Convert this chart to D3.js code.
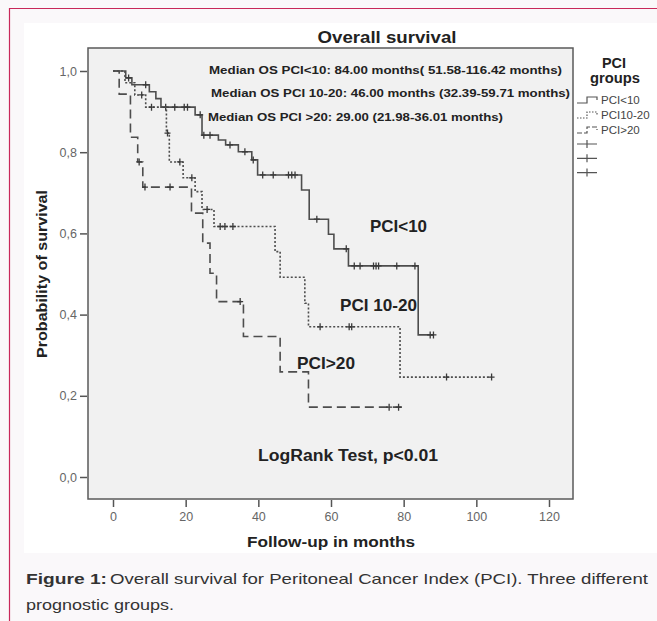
<!DOCTYPE html>
<html>
<head>
<meta charset="utf-8">
<script src="https://cdn.jsdelivr.net/npm/d3@7"></script>
<style>
  body { margin: 0; background: #faf8fa; }
  svg { display: block; font-family: "Liberation Sans", Arial, sans-serif; }
</style>
</head>
<body>
<div id="chart"></div>
<script>
// step points: [month, survival]
var pci10Steps = [[0,1.0],[3.5,0.983],[5.2,0.966],[10,0.949],[11.8,0.932],[13.2,0.911],[22.6,0.892],[24.5,0.842],
  [29,0.830],[31,0.818],[34.5,0.801],[38.2,0.781],[39.8,0.744],[51.9,0.707],[54,0.635],[59.3,0.598],[60.8,0.562],[64.8,0.520],[84,0.350]];
var pci10End = 88.2;
var pci10Censor = [4.3, 9, 14.5, 17, 19.6, 20.5, 24, 25, 26.7, 32.2, 36.3, 38.6, 41.2, 44.1, 48.3, 49.2, 50.1,
  56.1, 64.2, 66.4, 68, 71.7, 72.4, 73.1, 78.1, 83.1, 87.3, 88.2];

var pci1020Steps = [[0,1.0],[3.3,0.971],[6,0.941],[9,0.911],[14.7,0.847],[15.5,0.776],[19.3,0.737],[22.6,0.703],
  [24.5,0.659],[27.8,0.617],[44.6,0.555],[46,0.492],[52.8,0.428],[53.8,0.370],[79,0.246]];
var pci1020End = 104.2;
var pci1020Censor = [7.9, 10.6, 15, 18.4, 21.7, 25.9, 29.5, 30.8, 33, 57, 65, 65.7, 91.8, 104.2];

var pci20Steps = [[0,1.0],[1.7,0.943],[4.8,0.837],[6.8,0.776],[8.2,0.714],[21.6,0.650],[24.7,0.576],[26.7,0.502],
  [28.5,0.432],[35.9,0.346],[46,0.259],[53.8,0.172]];
var pci20End = 79.5;
var pci20Censor = [7.2, 8.8, 15.7, 35, 76, 78.6];

var xTicks = [0, 20, 40, 60, 80, 100, 120];
var yTicks = [0, 0.2, 0.4, 0.6, 0.8, 1.0];
var legendNames = ["PCI<10", "PCI10-20", "PCI>20"];
var medianNotes = [
  "Median OS PCI<10: 84.00 months( 51.58-116.42 months)",
  "Median OS PCI 10-20: 46.00 months (32.39-59.71 months)",
  "Median OS PCI >20: 29.00 (21.98-36.01 months)"
];

var W = 657, H = 621;
var svg = d3.select("#chart").append("svg").attr("width", W).attr("height", H);

// page frame
svg.append("rect").attr("x", 0).attr("y", 0).attr("width", W).attr("height", H).attr("fill", "#faf8fa");
svg.append("path").attr("d", "M9.5," + H + "V8.5H" + W).attr("fill", "none").attr("stroke", "#c8285a").attr("stroke-width", 1.2);
svg.append("rect").attr("x", 24).attr("y", 23).attr("width", W - 24).attr("height", 530).attr("fill", "#fff");

var x = d3.scaleLinear().domain([0, 120]).range([113, 549]);
var y = d3.scaleLinear().domain([0, 1]).range([477, 71]);

// plot box
var box = {l: 88, t: 48, r: 573, b: 499};
svg.append("rect").attr("x", box.l).attr("y", box.t).attr("width", box.r - box.l).attr("height", box.b - box.t)
  .attr("fill", "#f1f1f1").attr("stroke", "#5a5a5a").attr("stroke-width", 1.5);

// axes
var xAxis = svg.append("g").attr("transform", "translate(0," + (box.b + 1) + ")")
  .call(d3.axisBottom(x).tickValues(xTicks).tickSize(7).tickFormat(d3.format("d")));
var yAxis = svg.append("g").attr("transform", "translate(" + (box.l - 1) + ",0)")
  .call(d3.axisLeft(y).tickValues(yTicks).tickSize(7).tickFormat(function (d) { return d3.format(".1f")(d).replace(".", ","); }));
[xAxis, yAxis].forEach(function (a) {
  a.select(".domain").remove();
  a.selectAll("line").attr("stroke", "#555").attr("stroke-width", 1.5);
  a.selectAll("text").attr("fill", "#666").style("font-size", "12.5px");
});
xAxis.selectAll("text").attr("dy", "0.9em");

// curves
var line = d3.line().x(function (d) { return x(d[0]); }).y(function (d) { return y(d[1]); }).curve(d3.curveStepAfter);

function survAt(steps, t) {
  var s = steps[0][1];
  steps.forEach(function (p) { if (p[0] <= t) s = p[1]; });
  return s;
}

var groups = [
  {steps: pci10Steps, end: pci10End, censor: pci10Censor, dash: null},
  {steps: pci1020Steps, end: pci1020End, censor: pci1020Censor, dash: "2,2"},
  {steps: pci20Steps, end: pci20End, censor: pci20Censor, dash: "9,5"}
];

groups.forEach(function (g) {
  var pts = g.steps.concat([[g.end, g.steps[g.steps.length - 1][1]]]);
  svg.append("path").attr("d", line(pts)).attr("fill", "none")
    .attr("stroke", "#4d4d4d").attr("stroke-width", 1.6)
    .attr("stroke-dasharray", g.dash);
  svg.append("g").selectAll("path").data(g.censor).join("path")
    .attr("d", function (t) {
      var cx = x(t), cy = y(survAt(g.steps, t));
      return "M" + cx + "," + (cy - 3.5) + "V" + (cy + 3.5) + "M" + (cx - 3) + "," + cy + "H" + (cx + 3);
    })
    .attr("stroke", "#3a3a3a").attr("stroke-width", 1.3);
});

// texts
function txt(s, tx, ty, size, opts) {
  opts = opts || {};
  var t = svg.append("text").attr("x", tx).attr("y", ty).text(s)
    .style("font-size", size + "px").style("font-weight", opts.bold ? "bold" : "normal")
    .attr("fill", opts.fill || "#222").attr("text-anchor", opts.anchor || "start");
  if (opts.len) t.attr("textLength", opts.len).attr("lengthAdjust", "spacingAndGlyphs");
  return t;
}

txt("Overall survival", 387, 43, 17, {bold: true, anchor: "middle", len: 139});
txt(medianNotes[0], 209, 74, 11.5, {bold: true, len: 353});
txt(medianNotes[1], 211, 97, 11.5, {bold: true, len: 359});
txt(medianNotes[2], 208, 121, 11.5, {bold: true, len: 295});
txt("PCI<10", 370, 232, 17, {bold: true, len: 57});
txt("PCI 10-20", 340, 311, 17, {bold: true, len: 77});
txt("PCI>20", 297, 369, 17, {bold: true, len: 58});
txt("LogRank Test, p<0.01", 258, 461, 16, {bold: true, len: 180});
txt("Follow-up in months", 331, 547, 15, {bold: true, anchor: "middle", len: 168});
svg.append("text").attr("transform", "translate(47,274) rotate(-90)").attr("text-anchor", "middle")
  .text("Probability of survival").style("font-size", "15px").style("font-weight", "bold").attr("fill", "#222")
  .attr("textLength", 168).attr("lengthAdjust", "spacingAndGlyphs");

// legend
txt("PCI", 614, 68, 14, {bold: true, anchor: "middle", len: 24});
txt("groups", 615, 83, 14, {bold: true, anchor: "middle", len: 50});
var leg = svg.append("g").selectAll("g").data(legendNames).join("g")
  .attr("transform", function (d, i) { return "translate(577," + (100 + i * 15) + ")"; });
leg.append("path").attr("d", "M0,3H10V-3H20V0").attr("fill", "none").attr("stroke", "#555").attr("stroke-width", 1.2)
  .attr("stroke-dasharray", function (d, i) { return groups[i].dash ? (i === 1 ? "1.5,1.5" : "5,2") : null; });
leg.append("text").attr("x", 24).attr("y", 4).text(function (d) { return d; })
  .style("font-size", "11.5px").attr("fill", "#444");
svg.append("g").selectAll("path").data(legendNames).join("path")
  .attr("d", function (d, i) { var cy = 144 + i * 14.3; return "M577," + cy + "H597M587," + (cy - 4) + "V" + (cy + 4); })
  .attr("stroke", "#555").attr("stroke-width", 1.2);

// caption
txt("Figure 1:", 26, 584, 15, {bold: true, fill: "#333", len: 81});
txt("Overall survival for Peritoneal Cancer Index (PCI). Three different", 110, 584, 15, {fill: "#333", len: 538});
txt("prognostic groups.", 26, 610, 15, {fill: "#333", len: 148});
</script>
</body>
</html>
